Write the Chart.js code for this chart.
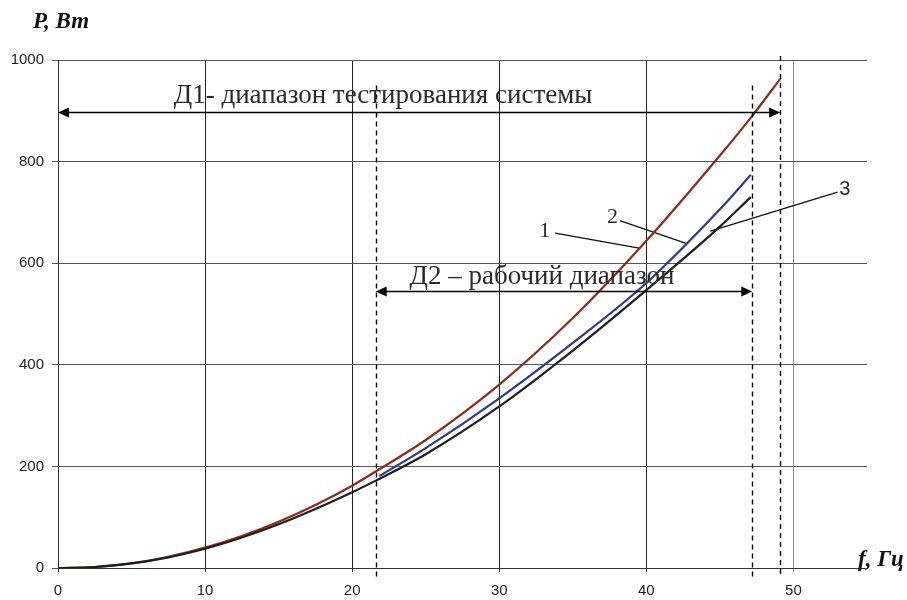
<!DOCTYPE html>
<html>
<head>
<meta charset="utf-8">
<script src="https://cdn.jsdelivr.net/npm/chart.js@4/dist/chart.umd.min.js"></script>
<style>
html,body{margin:0;padding:0;background:#fff;}
#wrap{width:907px;height:600px;position:relative;}
</style>
</head>
<body>
<div id="wrap"><canvas id="c" width="907" height="600"></canvas></div>
<script>
// ---- data ----
const freqRed   = [0, 2.5, 5, 7.5, 10, 12.5, 15, 17.5, 20, 21.6, 25, 30, 35, 40, 45, 47.2, 49.1];
const powerRed  = [0, 2, 9, 22, 40, 63, 91, 124, 162, 190, 252, 361, 492, 644, 812, 890, 963];
const freqBlue  = [21.85, 25, 30, 35, 40, 45, 47.1];
const powerBlue = [181, 236, 334, 443, 561, 706, 774];
const freqBlack = [0, 2.5, 5, 7.5, 10, 12.5, 15, 17.5, 20, 21.6, 25, 30, 35, 40, 45, 47.1];
const powerBlack= [0, 2, 9, 21, 38, 60, 86, 116, 149, 172, 224, 318, 428, 547, 672, 730];

const xTicks = [0, 10, 20, 30, 40, 50];
const yTicks = [0, 200, 400, 600, 800, 1000];

// boundaries of ranges (vertical dashed lines)
const dashX   = [21.6, 47.2, 49.1];
const dashTop = [950, 950, 1008];
const dashBottom = -18;

// range arrows
const rangeD1 = {from: 0, to: 49.1, level: 898, text: 'Д1- диапазон тестирования системы', tx: 22.1, ty: 929};
const rangeD2 = {from: 21.6, to: 47.2, level: 546, text: 'Д2 – рабочий диапазон', tx: 32.9, ty: 574};

// curve labels and leader lines
const lead1X = [33.8, 39.6], lead1Y = [659, 629];
const lead2X = [38.2, 42.7], lead2Y = [684, 639];
const lead3X = [53.0, 44.35], lead3Y = [740, 663];
const labelNames = ['1', '2', '3'];
const labelX = [33.1, 37.7, 53.5];
const labelY = [663, 690, 745];

const pts = (xs, ys) => xs.map((x, i) => ({x: x, y: ys[i]}));

const curve = (data, color) => ({
  data: data, borderColor: color, borderWidth: 2.2, pointRadius: 0,
  cubicInterpolationMode: 'monotone', fill: false
});
const lead = (data) => ({
  data: data, borderColor: '#111', borderWidth: 1.3, pointRadius: 0, tension: 0, fill: false
});

const overlay = {
  id: 'overlay',
  afterDatasetsDraw(chart) {
    const ctx = chart.ctx, xs = chart.scales.x, ys = chart.scales.y;
    ctx.save();
    // dashed lines
    ctx.strokeStyle = '#000'; ctx.lineWidth = 1.4; ctx.setLineDash([5, 4]);
    dashX.forEach((v, i) => {
      const px = Math.round(xs.getPixelForValue(v)) + 0.5;
      ctx.beginPath();
      ctx.moveTo(px, ys.getPixelForValue(dashTop[i]));
      ctx.lineTo(px, ys.getPixelForValue(dashBottom));
      ctx.stroke();
    });
    ctx.setLineDash([]);
    // arrows
    const arrow = (r) => {
      const x1 = xs.getPixelForValue(r.from), x2 = xs.getPixelForValue(r.to);
      const y = Math.round(ys.getPixelForValue(r.level)) + 0.5;
      ctx.strokeStyle = '#000'; ctx.lineWidth = 1.5;
      ctx.beginPath(); ctx.moveTo(x1 + 8, y); ctx.lineTo(x2 - 8, y); ctx.stroke();
      ctx.fillStyle = '#000';
      ctx.beginPath(); ctx.moveTo(x1, y); ctx.lineTo(x1 + 11, y - 5); ctx.lineTo(x1 + 11, y + 5); ctx.closePath(); ctx.fill();
      ctx.beginPath(); ctx.moveTo(x2, y); ctx.lineTo(x2 - 11, y - 5); ctx.lineTo(x2 - 11, y + 5); ctx.closePath(); ctx.fill();
      ctx.font = '27px "Liberation Serif", "Times New Roman", serif';
      ctx.fillStyle = '#2a2a2a'; ctx.textAlign = 'center'; ctx.textBaseline = 'middle';
      ctx.fillText(r.text, xs.getPixelForValue(r.tx), ys.getPixelForValue(r.ty));
    };
    arrow(rangeD1); arrow(rangeD2);
    // curve labels
    ctx.fillStyle = '#2a2a2a'; ctx.textAlign = 'center'; ctx.textBaseline = 'middle';
    labelNames.forEach((t, i) => {
      ctx.font = i < 2 ? '22px "Liberation Serif", serif' : '20px "Liberation Sans", Arial, sans-serif';
      ctx.fillText(t, xs.getPixelForValue(labelX[i]), ys.getPixelForValue(labelY[i]));
    });
    // axis titles
    ctx.fillStyle = '#111';
    ctx.font = 'italic bold 23px "Liberation Serif", "Times New Roman", serif';
    ctx.textAlign = 'left'; ctx.textBaseline = 'middle';
    ctx.fillText('P, Вт', 33, 22);
    ctx.fillText('f, Гц', 858, 560);
    ctx.restore();
  }
};

new Chart(document.getElementById('c'), {
  type: 'line',
  data: {
    datasets: [
      curve(pts(freqBlack, powerBlack), '#1e1e1e'),
      curve(pts(freqBlue, powerBlue), '#2b3990'),
      curve(pts(freqRed, powerRed), '#8b2b1b'),
      lead(pts(lead1X, lead1Y)),
      lead(pts(lead2X, lead2Y)),
      lead(pts(lead3X, lead3Y))
    ]
  },
  options: {
    responsive: false, animation: false,
    layout: {padding: {top: 60, right: 40, left: 0, bottom: 0}},
    plugins: {legend: {display: false}, tooltip: {enabled: false}},
    scales: {
      x: {
        type: 'linear', min: 0, max: 55,
        afterBuildTicks: s => { s.ticks = xTicks.map(v => ({value: v})); },
        afterFit: s => { s.height = 32; },
        ticks: {font: {family: '"Liberation Sans", Arial, sans-serif', size: 15}, color: '#222', padding: 10, maxRotation: 0,
                callback: v => String(v)},
        grid: {color: c => (c.tick && c.tick.value === 50) ? '#8a8a8a' : '#222', lineWidth: 1, tickLength: 4},
        border: {color: '#333', width: 1}
      },
      y: {
        type: 'linear', min: 0, max: 1000,
        afterBuildTicks: s => { s.ticks = yTicks.map(v => ({value: v})); },
        afterFit: s => { s.width = 58; },
        ticks: {font: {family: '"Liberation Sans", Arial, sans-serif', size: 15}, color: '#222', padding: 8,
                callback: v => String(v)},
        grid: {color: '#555', lineWidth: 1, tickLength: 6},
        border: {color: '#333', width: 1}
      }
    }
  },
  plugins: [overlay]
});
</script>
</body>
</html>
